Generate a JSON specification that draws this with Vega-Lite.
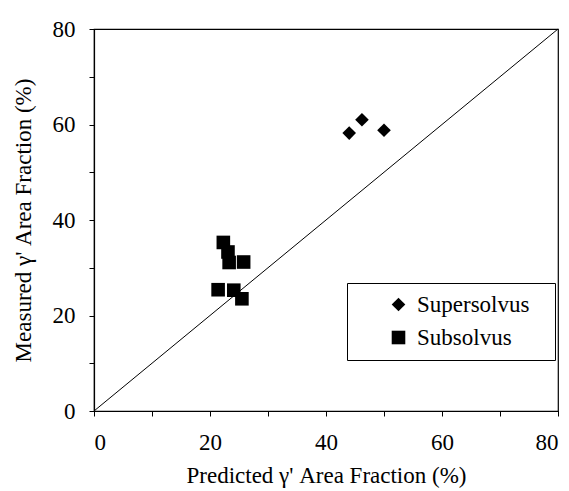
{
  "$schema": "https://vega.github.io/schema/vega-lite/v6.json",
  "width": 464,
  "height": 382,
  "autosize": {"type": "none"},
  "padding": {"left": 94, "top": 29, "right": 11, "bottom": 80},
  "background": "white",
  "config": {
    "font": "Liberation Serif, Times New Roman, serif",
    "view": {"stroke": "black", "strokeWidth": 1.2},
    "legend": {"labelFont": "Liberation Serif, Times New Roman, serif", "titleFont": "Liberation Serif, Times New Roman, serif"},
    "axis": {"grid": false, "domainColor": "black", "tickColor": "black", "labelColor": "black", "titleColor": "black", "labelFont": "Liberation Serif, Times New Roman, serif", "titleFont": "Liberation Serif, Times New Roman, serif", "titleFontWeight": "normal", "labelFontSize": 23, "titleFontSize": 23, "tickSize": 5, "domainWidth": 1.2}
  },
  "datasets": {
    "pts": [
      {"predicted": 44.0, "measured": 58.2, "group": "Supersolvus"},
      {"predicted": 46.2, "measured": 61.0, "group": "Supersolvus"},
      {"predicted": 50.0, "measured": 58.8, "group": "Supersolvus"},
      {"predicted": 22.3, "measured": 35.3, "group": "Subsolvus"},
      {"predicted": 23.1, "measured": 33.3, "group": "Subsolvus"},
      {"predicted": 23.3, "measured": 31.1, "group": "Subsolvus"},
      {"predicted": 25.8, "measured": 31.2, "group": "Subsolvus"},
      {"predicted": 21.4, "measured": 25.4, "group": "Subsolvus"},
      {"predicted": 24.1, "measured": 25.3, "group": "Subsolvus"},
      {"predicted": 25.5, "measured": 23.5, "group": "Subsolvus"}
    ],
    "diag": [{"x0": 0, "y0": 0, "x1": 80, "y1": 80}]
  },
  "layer": [
    {
      "data": {"name": "diag"},
      "mark": {"type": "rule", "color": "black", "strokeWidth": 1},
      "encoding": {
        "x": {"field": "x0", "type": "quantitative", "scale": {"domain": [0, 80], "nice": false},
          "axis": {"values": [0,5,10,15,20,25,30,35,40,45,50,55,60,65,70,75,80], "labelExpr": "datum.value % 20 === 0 ? datum.label : ''", "labelPadding": 15, "titlePadding": 10, "title": "Predicted γ' Area Fraction (%)"}},
        "y": {"field": "y0", "type": "quantitative", "scale": {"domain": [0, 80], "nice": false},
          "axis": {"values": [0,5,10,15,20,25,30,35,40,45,50,55,60,65,70,75,80], "labelExpr": "datum.value % 20 === 0 ? datum.label : ''", "labelPadding": 14, "titlePadding": 17, "title": "Measured γ' Area Fraction (%)"}},
        "x2": {"field": "x1"},
        "y2": {"field": "y1"}
      }
    },
    {
      "data": {"name": "pts"},
      "mark": {"type": "point", "filled": true, "color": "black", "opacity": 1, "size": 185},
      "encoding": {
        "x": {"field": "predicted", "type": "quantitative"},
        "y": {"field": "measured", "type": "quantitative"},
        "shape": {"field": "group", "type": "nominal",
          "scale": {"domain": ["Supersolvus", "Subsolvus"], "range": ["diamond", "square"]},
          "legend": {"title": " ", "titleOrient": "right", "titlePadding": 16, "symbolOffset": 30, "orient": "none", "legendX": 253, "legendY": 254, "strokeColor": "black", "fillColor": "white", "padding": 10, "labelFontSize": 23, "labelColor": "black", "labelOffset": 7, "labelLimit": 400, "rowPadding": 9, "symbolSize": 185, "symbolFillColor": "black", "symbolStrokeWidth": 0, "symbolOpacity": 1}}
      }
    }
  ]
}
